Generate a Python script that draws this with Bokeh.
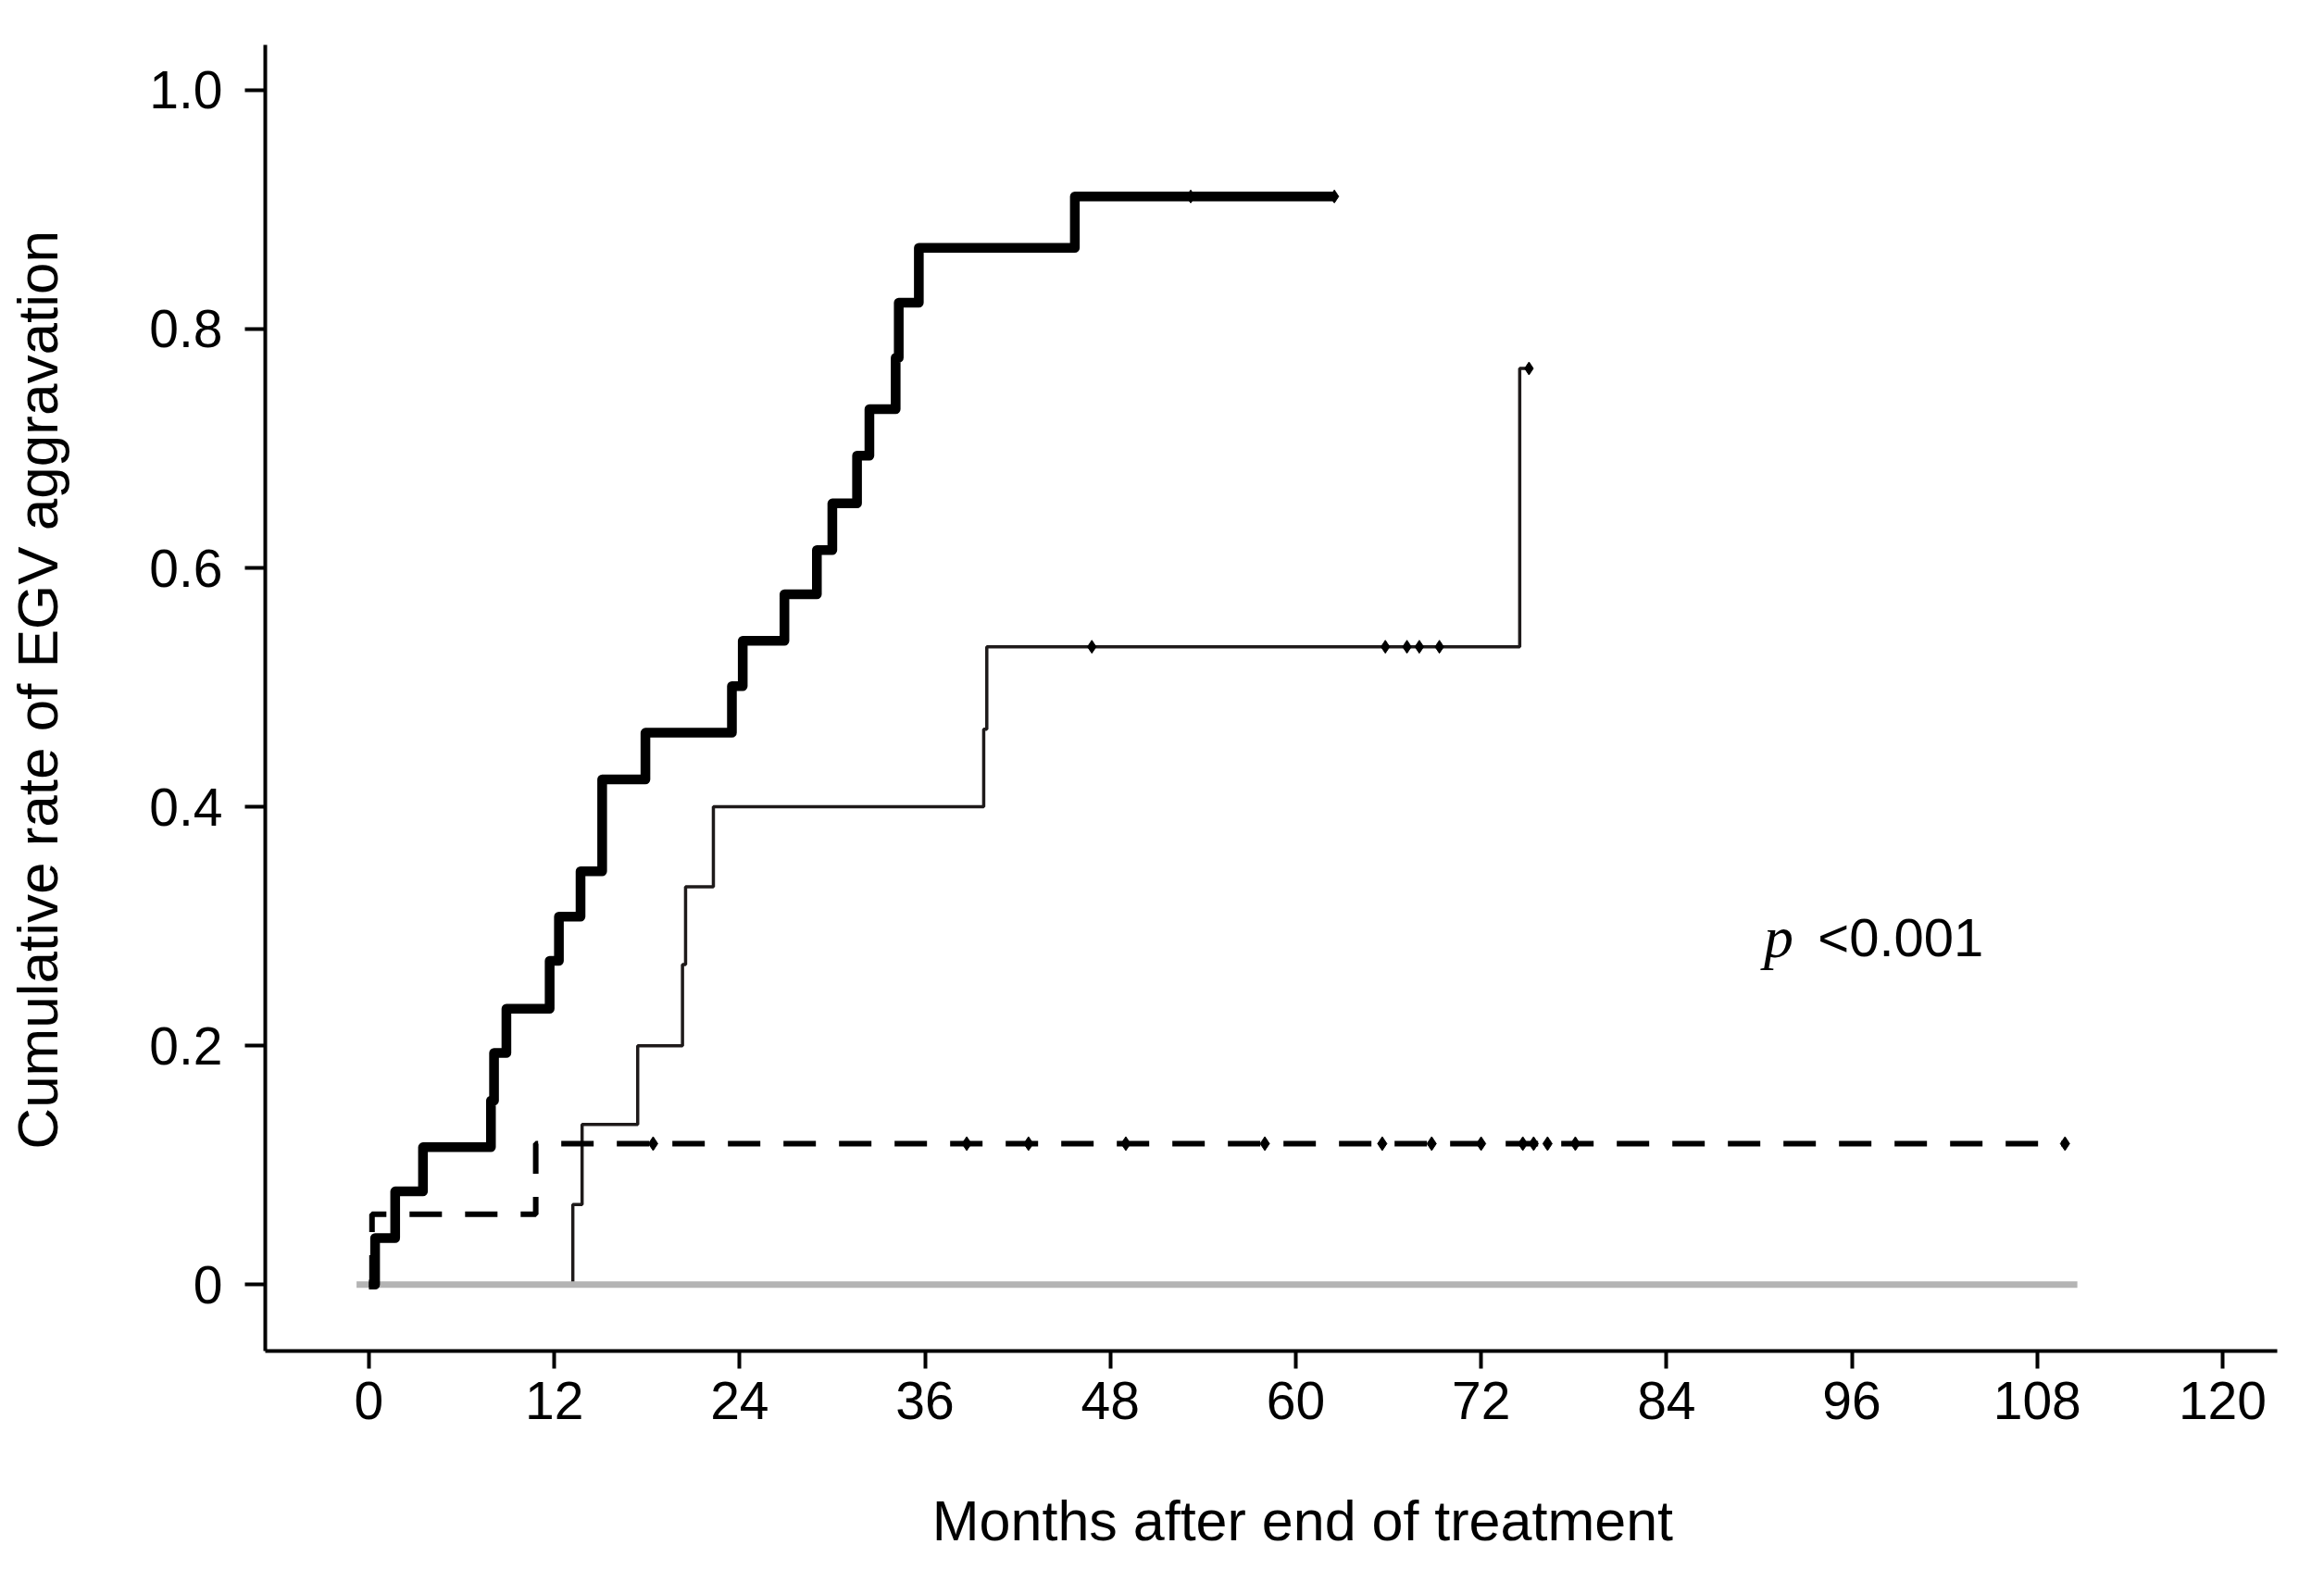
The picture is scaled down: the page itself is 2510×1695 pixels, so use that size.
import numpy as np
from bokeh.plotting import figure
from bokeh.models import Range1d, FixedTicker, Label
from bokeh.embed import file_html
from bokeh.resources import INLINE

# ---- data ----
x_ticks = [0, 12, 24, 36, 48, 60, 72, 84, 96, 108, 120]
y_ticks = [0, 0.2, 0.4, 0.6, 0.8, 1.0]
y_tick_labels = ["0", "0.2", "0.4", "0.6", "0.8", "1.0"]

thick_t = [0, 0.4, 1.7, 3.5, 7.9, 8.1, 8.9, 11.7, 12.3, 13.7, 15.1, 17.9, 23.5, 24.2,
           26.9, 29.0, 30.0, 31.6, 32.4, 34.1, 34.3, 35.6, 45.7, 62.5]
thick_y = [0, 0.039, 0.078, 0.115, 0.154, 0.194, 0.231, 0.271, 0.308, 0.346, 0.423, 0.462,
           0.501, 0.539, 0.578, 0.615, 0.654, 0.694, 0.733, 0.776, 0.822, 0.868, 0.911, 0.911]
thick_cens = [53.2, 62.5]

thin_t = [0, 13.2, 13.8, 17.4, 20.3, 20.5, 22.3, 39.8, 40.0, 74.5, 75.1]
thin_y = [0, 0.067, 0.134, 0.200, 0.268, 0.333, 0.400, 0.465, 0.534, 0.767, 0.767]
thin_cens = [46.8, 65.8, 67.2, 68.0, 69.3, 75.1]

dash_t = [0, 0.2, 10.8, 109.8]
dash_y = [0, 0.059, 0.118, 0.118]
dash_cens = [18.4, 38.7, 42.7, 49.0, 58.0, 65.6, 68.8, 72.0, 74.7, 75.4, 76.3, 78.1, 109.8]

gray_t = [-0.8, 110.6]
gray_y = [0, 0]

p_label = "p"
p_value = "<0.001"
p_pos = (90.3, 0.291)
pv_pos = (93.8, 0.291)

x_title = "Months after end of treatment"
y_title = "Cumulative  rate of EGV aggravation"

NBSP = "\u00a0"


def step_at(ts, ys, cs):
    ts = np.asarray(ts); ys = np.asarray(ys)
    idx = np.searchsorted(ts, np.asarray(cs), side="right") - 1
    idx = np.clip(idx, 0, len(ys) - 1)
    return ys[idx]


p = figure(width=2494, height=1679, output_backend="svg", toolbar_location=None,
           x_range=Range1d(-6.71, 123.54), y_range=Range1d(-0.0556, 1.0379),
           min_border_left=286, min_border_right=35, min_border_top=48, min_border_bottom=216)
p.outline_line_color = None
p.xgrid.grid_line_color = None
p.ygrid.grid_line_color = None
p.background_fill_color = "white"

# curves
p.step(thin_t, thin_y, mode="after", line_color="#1e1a1a", line_width=3.5)
p.line(gray_t, gray_y, line_color="#b4b4b4", line_width=7)
p.step(dash_t, dash_y, mode="after", line_color="black", line_width=6, line_dash="35 25")
p.step(thick_t, thick_y, mode="after", line_color="black", line_width=10.5, line_join="round")

# censor marks
p.scatter(thick_cens, step_at(thick_t, thick_y, thick_cens), marker="diamond", size=14,
          fill_color="black", line_color="black")
p.scatter(thin_cens, step_at(thin_t, thin_y, thin_cens), marker="diamond", size=14,
          fill_color="black", line_color="black")
p.scatter(dash_cens, step_at(dash_t, dash_y, dash_cens), marker="diamond", size=15,
          fill_color="black", line_color="black")

# p-value text
p.add_layout(Label(x=p_pos[0], y=p_pos[1], text=p_label, text_font="Liberation Serif",
                   text_font_style="italic", text_font_size="64px", text_color="black",
                   text_baseline="alphabetic", text_align="left"))
p.add_layout(Label(x=pv_pos[0], y=pv_pos[1], text=p_value, text_font="Liberation Sans",
                   text_font_size="58px", text_color="black",
                   text_baseline="alphabetic", text_align="left"))

# axes
for ax in (p.xaxis[0], p.yaxis[0]):
    ax.axis_line_color = "black"
    ax.axis_line_width = 4
    ax.major_tick_line_color = "black"
    ax.major_tick_line_width = 4
    ax.major_tick_in = 0
    ax.minor_tick_line_color = None
    ax.major_label_text_font = "Liberation Sans"
    ax.major_label_text_font_size = "57px"
    ax.major_label_text_color = "black"
    ax.axis_label_text_font = "Liberation Sans"
    ax.axis_label_text_font_style = "normal"
    ax.axis_label_text_color = "black"

p.xaxis.ticker = FixedTicker(ticks=x_ticks)
p.xaxis.major_tick_out = 19
p.xaxis.major_label_standoff = 14
# leading no-break spaces shift the centred title right, as in the reference
p.xaxis.axis_label = NBSP * 4 + x_title
p.xaxis.axis_label_text_font_size = "61px"
p.xaxis.axis_label_standoff = 73

p.yaxis.ticker = FixedTicker(ticks=y_ticks)
p.yaxis.major_label_overrides = {t: l for t, l in zip(y_ticks, y_tick_labels)}
p.yaxis.major_tick_out = 22
p.yaxis.major_label_standoff = 24
# leading no-break spaces shift the centred (rotated) title upward
p.yaxis.axis_label = NBSP * 2 + y_title
p.yaxis.axis_label_text_font_size = "62px"
p.yaxis.axis_label_standoff = 83

open("out.html", "w").write(file_html(p, INLINE))
